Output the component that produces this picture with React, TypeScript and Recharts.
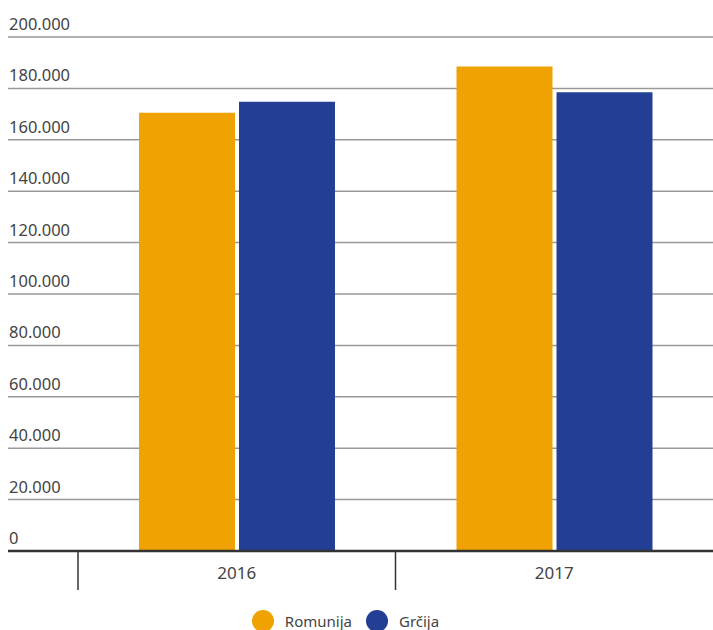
import React from "react";
import {
  BarChart,
  Bar,
  XAxis,
  YAxis,
  CartesianGrid,
  Legend,
} from "recharts";

const years = ["2016", "2017"];
const romunija = [170500, 188500];
const grcija = [174800, 178500];
const yTicks = [0, 20000, 40000, 60000, 80000, 100000, 120000, 140000, 160000, 180000, 200000];

const data = years.map((year, i) => ({
  year,
  Romunija: romunija[i],
  Grčija: grcija[i],
}));

const FONT = "'Noto Sans', 'Open Sans', sans-serif";
const ORANGE = "#F0A202";
const BLUE = "#233F95";
const PLOT_LEFT = 78;
const BAND = (713 - PLOT_LEFT) / years.length;

const fmt = (v: number) =>
  v === 0 ? "0" : v.toString().replace(/\B(?=(\d{3})+(?!\d))/g, ".");

function YTick(props: any) {
  const { y, payload } = props;
  const zero = payload.value === 0;
  return (
    <g>
      <line
        x1={8}
        x2={PLOT_LEFT}
        y1={y}
        y2={y}
        stroke={zero ? "#333" : "#999"}
        strokeWidth={zero ? 2.5 : 1.5}
      />
      <text x={9} y={y - 7} fill="#444" fontSize={16.5} fontFamily={FONT}>
        {fmt(payload.value)}
      </text>
    </g>
  );
}

function XTick(props: any) {
  const { x, y, payload } = props;
  return (
    <g>
      <line x1={x - BAND / 2} x2={x - BAND / 2} y1={y} y2={y + 39} stroke="#333" strokeWidth={1.5} />
      <text x={x} y={y + 28} textAnchor="middle" fill="#444" fontSize={17} fontFamily={FONT}>
        {payload.value}
      </text>
    </g>
  );
}

function LegendContent() {
  const items = [
    { name: "Romunija", color: ORANGE },
    { name: "Grčija", color: BLUE },
  ];
  return (
    <div
      style={{
        display: "flex",
        justifyContent: "center",
        alignItems: "center",
        paddingTop: 14,
        marginLeft: -22,
        fontFamily: FONT,
        fontSize: 15,
        color: "#444",
      }}
    >
      {items.map((it) => (
        <div key={it.name} style={{ display: "flex", alignItems: "center", margin: "0 7px" }}>
          <span
            style={{
              width: 22,
              height: 22,
              borderRadius: "50%",
              background: it.color,
              display: "inline-block",
              marginRight: 11,
            }}
          />
          <span>{it.name}</span>
        </div>
      ))}
    </div>
  );
}

export default function App() {
  return (
    <div style={{ position: "absolute", left: 0, top: 0, background: "#fff" }}>
      <BarChart
        width={713}
        height={630}
        data={data}
        margin={{ top: 37, right: 0, left: 0, bottom: 0 }}
        barSize={96}
        barGap={4}
      >
        <CartesianGrid vertical={false} stroke="#999" strokeWidth={1.5} />
        <YAxis
          width={PLOT_LEFT}
          domain={[0, 200000]}
          ticks={yTicks}
          axisLine={false}
          tickLine={false}
          tick={<YTick />}
          interval={0}
        />
        <XAxis
          dataKey="year"
          height={45}
          tickLine={false}
          tickSize={0}
          tickMargin={0}
          axisLine={{ stroke: "#333", strokeWidth: 2.5 }}
          tick={<XTick />}
        />
        <Legend verticalAlign="bottom" height={34} content={<LegendContent />} />
        <Bar dataKey="Romunija" fill={ORANGE} isAnimationActive={false} />
        <Bar dataKey="Grčija" fill={BLUE} isAnimationActive={false} />
      </BarChart>
    </div>
  );
}
